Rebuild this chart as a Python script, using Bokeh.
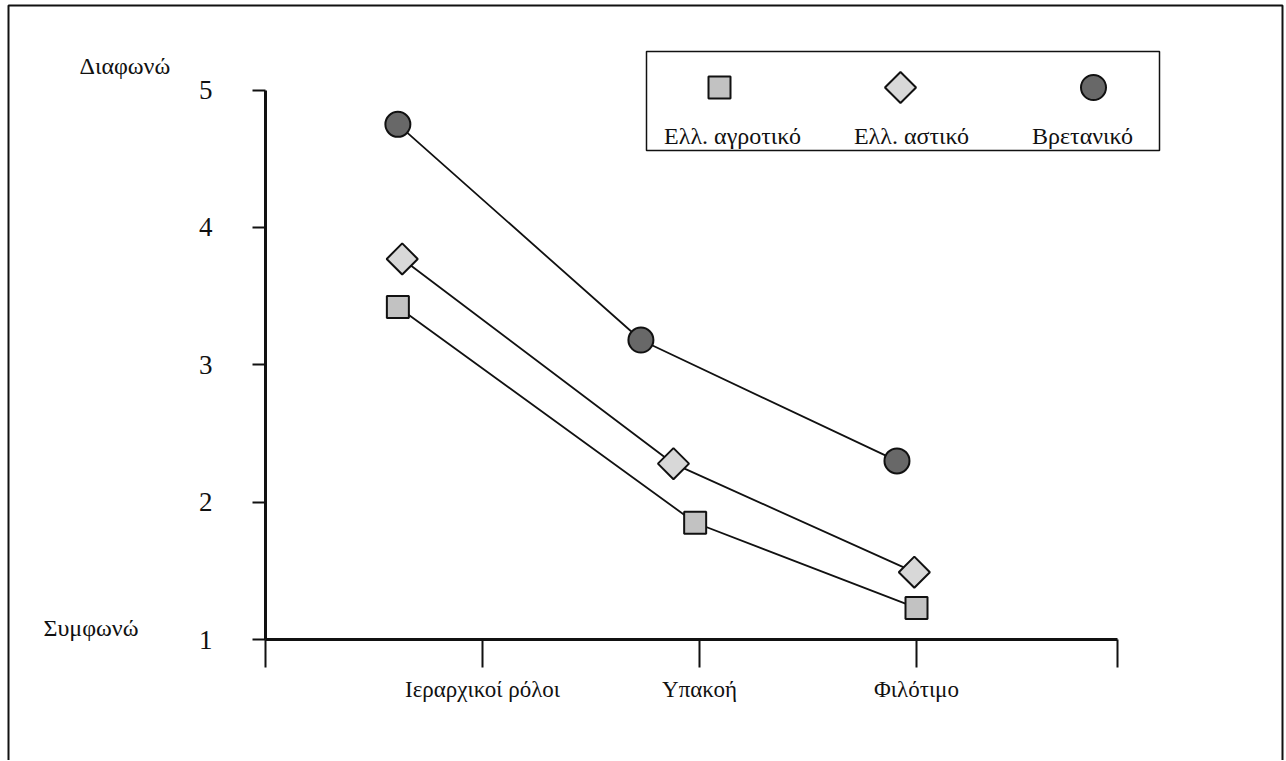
import numpy as np
from bokeh.plotting import figure
from bokeh.models import Range1d, FixedTicker, CustomJSTickFormatter, Label, BoxAnnotation
from bokeh.core.properties import value
from bokeh.embed import file_html
from bokeh.resources import INLINE

# ---------------- data ----------------
categories = ["Ιεραρχικοί ρόλοι", "Υπακοή", "Φιλότιμο"]
series_names = ["Ελλ. αγροτικό", "Ελλ. αστικό", "Βρετανικό"]

rural_x = [0.61, 1.98, 3.00]
rural_y = [3.42, 1.85, 1.23]
urban_x = [0.63, 1.88, 2.99]
urban_y = [3.77, 2.28, 1.49]
british_x = [0.61, 1.73, 2.91]
british_y = [4.75, 3.18, 2.30]

y_ticks = [1, 2, 3, 4, 5]
y_high_label = "Διαφωνώ"
y_low_label = "Συμφωνώ"

# ---------------- layout helpers (canvas pixels -> data) ----------------
W, H = 1285, 760
OX, OY = 265.0, 639.0          # canvas pixel of data origin (x=0, y=1)
PX_X, PX_Y = 217.0, 137.375    # pixels per data unit


def dx(px):
    return (px - OX) / PX_X


def dy(py):
    return 1 + (OY - py) / PX_Y


X_END = dx(1117)
FONT = "Liberation Serif"
INK = "#111111"

p = figure(width=W, height=H, output_backend="svg", toolbar_location=None,
           x_range=Range1d(dx(0), dx(W)), y_range=Range1d(dy(H), dy(0)),
           min_border=0)
p.outline_line_color = None
p.grid.visible = False
p.background_fill_color = "white"
p.border_fill_color = "white"

# x axis (drawn at y = 1)
xa = p.xaxis[0]
xa.fixed_location = 1
xa.ticker = FixedTicker(ticks=[0, 1, 2, 3, X_END])
xa.bounds = (0, X_END)
xa.formatter = CustomJSTickFormatter(args=dict(cats=categories), code="""
const i = Math.round(tick);
if (Math.abs(tick - i) < 1e-6 && i >= 1 && i <= cats.length) { return cats[i-1]; }
return '';
""")
xa.axis_line_width = 3
xa.axis_line_color = INK
xa.major_tick_out = 28
xa.major_tick_in = 0
xa.major_tick_line_width = 2
xa.major_tick_line_color = INK
xa.minor_tick_line_color = None
xa.major_label_text_font = FONT
xa.major_label_text_font_size = "23px"
xa.major_label_text_color = INK
xa.major_label_standoff = 9

# y axis (drawn at x = 0)
ya = p.yaxis[0]
ya.fixed_location = 0
ya.ticker = FixedTicker(ticks=y_ticks)
ya.bounds = (1, 5)
ya.axis_line_width = 3
ya.axis_line_color = INK
ya.major_tick_out = 13
ya.major_tick_in = 0
ya.major_tick_line_width = 2
ya.major_tick_line_color = INK
ya.minor_tick_line_color = None
ya.major_label_text_font = FONT
ya.major_label_text_font_size = "27px"
ya.major_label_text_color = INK
ya.major_label_standoff = 40

# outer frame of the figure (bottom edge runs off the page)
p.add_layout(BoxAnnotation(left=dx(8), right=dx(1282), top=dy(5), bottom=dy(H + 40),
                           fill_alpha=0, line_color=INK, line_alpha=1, line_width=2))

# series lines
for xs, ys in [(rural_x, rural_y), (urban_x, urban_y), (british_x, british_y)]:
    p.line(xs, ys, line_color=INK, line_width=1.8)

SQ = dict(marker="square", size=22, fill_color="#c2c2c2", line_color=INK, line_width=2)
DI = dict(marker="square", size=22, angle=np.pi / 4, fill_color="#d8d8d8", line_color=INK, line_width=2)
CI = dict(marker="circle", size=25, fill_color="#686868", line_color=INK, line_width=2)

p.scatter(rural_x, rural_y, **SQ)
p.scatter(urban_x, urban_y, **DI)
p.scatter(british_x, british_y, **CI)

# legend (glyph above label, boxed)
p.add_layout(BoxAnnotation(left=dx(646), right=dx(1159), top=dy(51), bottom=dy(150),
                           fill_alpha=0, line_color=INK, line_alpha=1, line_width=1.5))
leg_x = [dx(719), dx(900), dx(1093)]
leg_y = dy(87)
p.scatter([leg_x[0]], [leg_y], **SQ)
p.scatter([leg_x[1]], [leg_y], **DI)
p.scatter([leg_x[2]], [leg_y], **CI)
p.text(x=[dx(732), dx(911), dx(1082)], y=[dy(135)] * 3, text=series_names,
       text_font=value(FONT), text_font_size="24px", text_align="center",
       text_baseline="alphabetic", text_color=INK)

# end labels of the scale
p.add_layout(Label(x=dx(79), y=dy(65), text=y_high_label, text_align="left", text_baseline="middle",
                   text_font=FONT, text_font_size="24px", text_color=INK))
p.add_layout(Label(x=dx(43), y=dy(627), text=y_low_label, text_align="left", text_baseline="middle",
                   text_font=FONT, text_font_size="24px", text_color=INK))

open("out.html", "w").write(file_html(p, INLINE))
